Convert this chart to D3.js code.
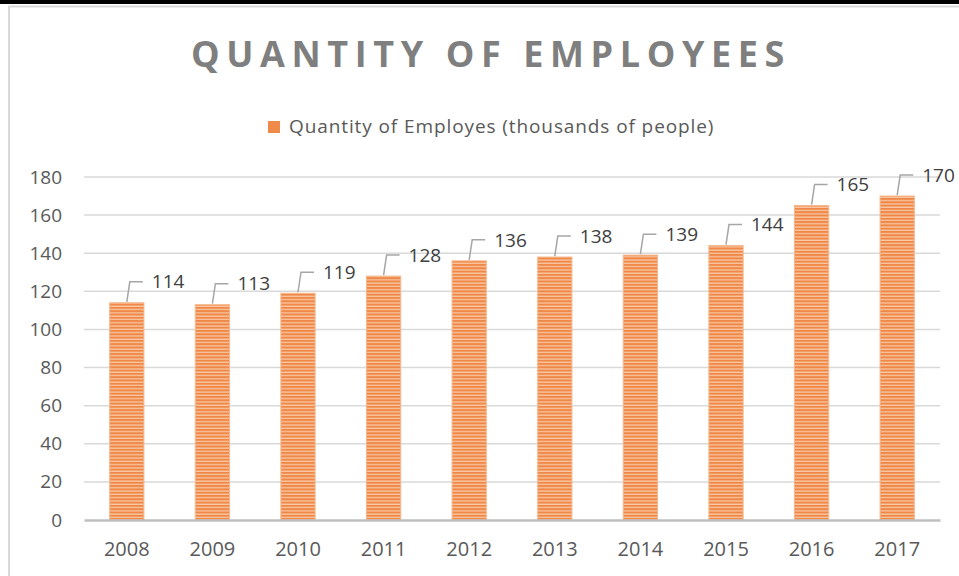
<!DOCTYPE html>
<html>
<head>
<meta charset="utf-8">
<title>Quantity of Employees</title>
<script src="https://d3js.org/d3.v7.min.js"></script>
<style>
  body { margin: 0; background: #fff; }
  text { font-family: "Open Sans", "Noto Sans", sans-serif; }
</style>
</head>
<body>
<script>
// chart data
var years = ["2008", "2009", "2010", "2011", "2012", "2013", "2014", "2015", "2016", "2017"];
var employees = [114, 113, 119, 128, 136, 138, 139, 144, 165, 170];
var yTicks = [0, 20, 40, 60, 80, 100, 120, 140, 160, 180];
var seriesName = "Quantity of Employes (thousands of people)";
var titleText = "QUANTITY OF EMPLOYEES";

var W = 959, H = 576;
var margin = {top: 177, right: 19, bottom: 56, left: 84};

var svg = d3.select("body").append("svg")
    .attr("width", W)
    .attr("height", H);

// stripe pattern for the bars
var defs = svg.append("defs");
var pat = defs.append("pattern")
    .attr("id", "stripes")
    .attr("patternUnits", "userSpaceOnUse")
    .attr("width", 10).attr("height", 3.3);
pat.append("rect").attr("width", 10).attr("height", 3.3).attr("fill", "#ef8846");
pat.append("rect").attr("y", 2.0).attr("width", 10).attr("height", 1.3).attr("fill", "#f9c6a3");

// black band + frame
svg.append("rect").attr("x", 0).attr("y", 0).attr("width", W).attr("height", 4).attr("fill", "#000");
svg.append("path")
    .attr("d", "M9," + H + "V6.5H" + W)
    .attr("fill", "none").attr("stroke", "#d9d9d9").attr("stroke-width", 2);

// title
svg.append("text")
    .attr("x", 491).attr("y", 67)
    .attr("text-anchor", "middle")
    .attr("font-size", 36).attr("font-weight", "bold")
    .attr("letter-spacing", 6.6)
    .attr("fill", "#7f7f7f")
    .text(titleText);

// legend
svg.append("rect").attr("x", 268).attr("y", 121).attr("width", 12).attr("height", 12).attr("fill", "#ef8a4a");
svg.append("text")
    .attr("x", 289).attr("y", 133)
    .attr("font-size", 19)
    .attr("letter-spacing", 0.9)
    .attr("fill", "#595959")
    .text(seriesName);

var x = d3.scaleBand()
    .domain(years)
    .range([margin.left, W - margin.right])
    .paddingInner(0.6).paddingOuter(0.3);

var y = d3.scaleLinear()
    .domain([0, 180])
    .range([H - margin.bottom, margin.top]);

// grid lines
svg.append("g")
    .selectAll("line")
    .data(yTicks.slice(1))
    .join("line")
    .attr("x1", margin.left).attr("x2", W - margin.right)
    .attr("y1", d => y(d)).attr("y2", d => y(d))
    .attr("stroke", "#d9d9d9").attr("stroke-width", 1.5);

// y axis labels
var yAxis = d3.axisLeft(y).tickValues(yTicks).tickSize(0).tickPadding(22);
var gy = svg.append("g")
    .attr("transform", "translate(" + margin.left + ",0)")
    .call(yAxis);
gy.select(".domain").remove();
gy.selectAll("text")
    .attr("font-size", 19)
    .attr("fill", "#595959")
    .style("font-family", "'Open Sans', sans-serif");

// bars
svg.append("g")
    .selectAll("rect")
    .data(employees)
    .join("rect")
    .attr("x", (d, i) => x(years[i]))
    .attr("y", d => y(d))
    .attr("width", x.bandwidth())
    .attr("height", d => y(0) - y(d))
    .attr("fill", "url(#stripes)")
    .attr("stroke", "#f6b58a").attr("stroke-width", 1);

// x axis
var xAxis = d3.axisBottom(x).tickSize(0).tickPadding(22);
var gx = svg.append("g")
    .attr("transform", "translate(0," + y(0) + ")")
    .call(xAxis);
gx.select(".domain")
    .attr("stroke", "#bfbfbf").attr("stroke-width", 2.5);
gx.selectAll("text")
    .attr("font-size", 20)
    .attr("fill", "#595959")
    .style("font-family", "'Open Sans', sans-serif");

// data labels with leader lines
var lbl = svg.append("g")
    .selectAll("g")
    .data(employees)
    .join("g")
    .attr("transform", (d, i) => "translate(" + (x(years[i]) + x.bandwidth() / 2) + "," + y(d) + ")");
lbl.append("path")
    .attr("d", "M0,-1L3,-21H16")
    .attr("fill", "none").attr("stroke", "#a6a6a6").attr("stroke-width", 1.5);
lbl.append("text")
    .attr("x", 25).attr("y", -21)
    .attr("dy", "0.35em")
    .attr("font-size", 19)
    .attr("fill", "#404040")
    .text(d => d);
</script>
</body>
</html>
